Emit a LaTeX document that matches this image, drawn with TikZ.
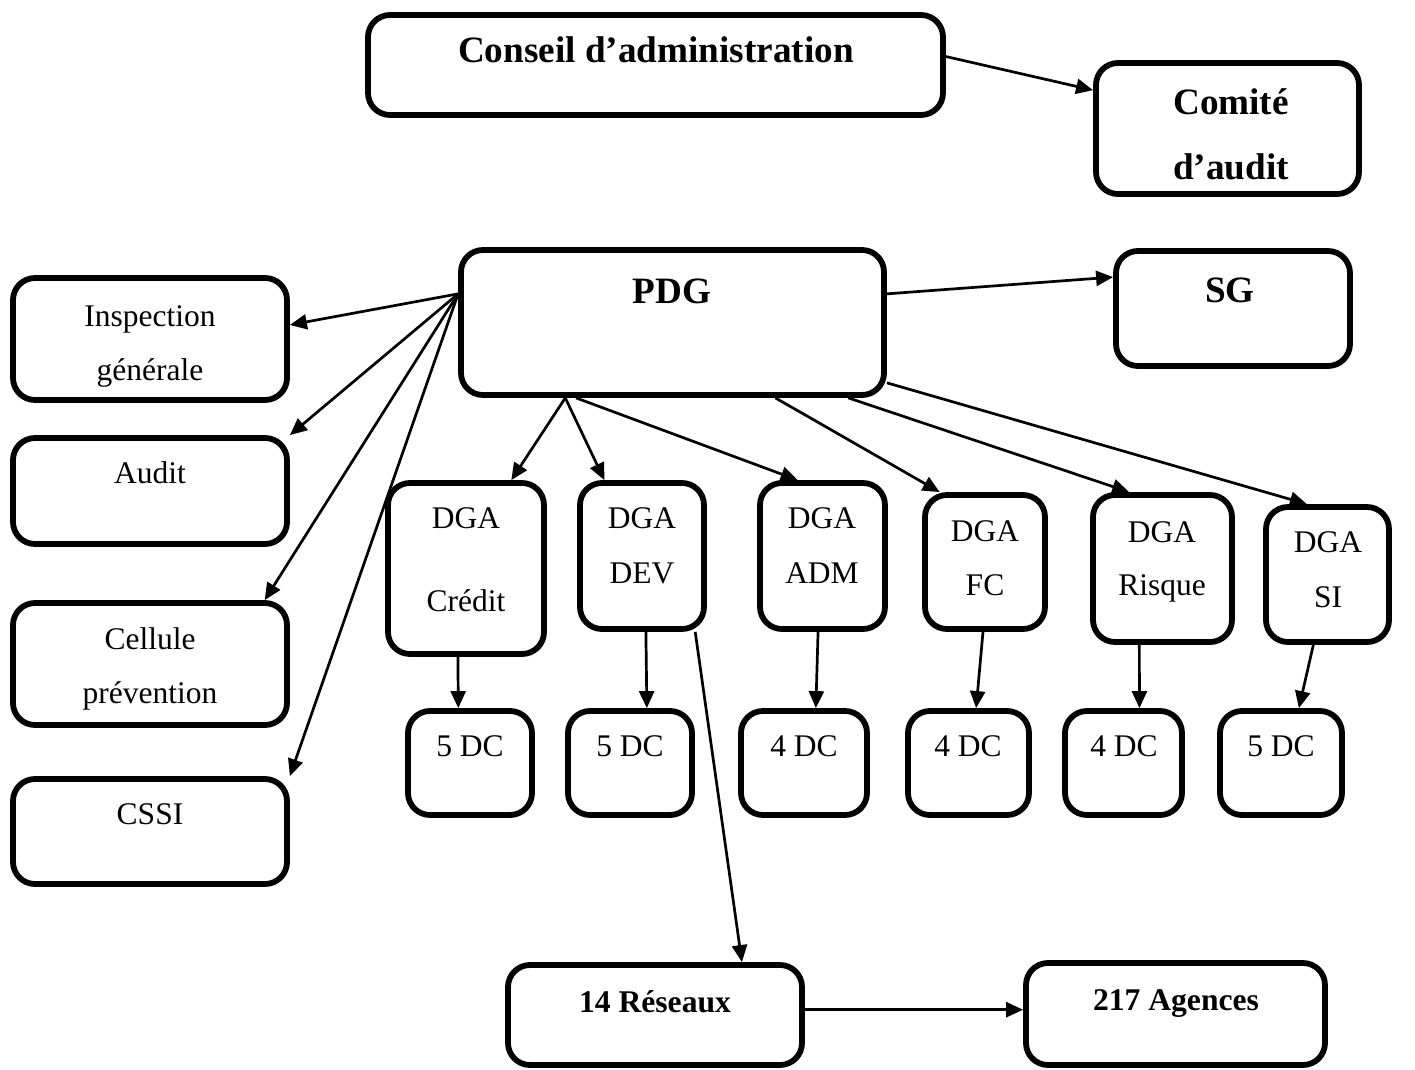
\documentclass[tikz,border=0pt]{standalone}
\usepackage{fontspec}
\setmainfont{Liberation Serif}
\usetikzlibrary{arrows.meta,calc,fit}
\begin{document}
\begin{tikzpicture}[x=0.5pt,y=-0.5pt,
  box/.style={draw,line width=2.9pt,rounded corners=11pt,inner sep=0pt,fill=white},
  reg/.style={anchor=base,inner sep=0pt,font=\fontsize{15.75}{18}\selectfont},
  bld/.style={anchor=base,inner sep=0pt,font=\fontsize{18.6}{22}\selectfont\bfseries},
  bldsm/.style={anchor=base,inner sep=0pt,font=\fontsize{15.8}{18}\selectfont\bfseries},
  arr/.style={line width=1.35pt,-{Triangle[length=8.5pt,width=7.5pt]}}]
\useasboundingbox (0,0) rectangle (1415,1070);

% boxes
\node[box,fit={(368,15) (943,115)}] (conseil) {};
\node[box,fit={(1096,63) (1359,194)}] (comite) {};
\node[box,fit={(461,250) (884,395)}] (pdg) {};
\node[box,fit={(1116,251) (1350,366)}] (sg) {};
\node[box,fit={(13,278) (287,400)}] (insp) {};
\node[box,fit={(13,438) (287,544)}] (audit) {};
\node[box,fit={(13,603) (287,725)}] (cell) {};
\node[box,fit={(13,779) (287,884)}] (cssi) {};
\node[box,fit={(388,483) (544,654)}] (credit) {};
\node[box,fit={(580,483) (704,629)}] (dev) {};
\node[box,fit={(760,483) (885,629)}] (adm) {};
\node[box,fit={(925,495) (1045,629)}] (fc) {};
\node[box,fit={(1093,495) (1232,642)}] (risque) {};
\node[box,fit={(1266,507) (1389,642)}] (si) {};
\node[box,fit={(408,711) (532,815)}] (dca) {};
\node[box,fit={(568,711) (692,815)}] (dcb) {};
\node[box,fit={(741,711) (867,815)}] (dcc) {};
\node[box,fit={(908,711) (1029,815)}] (dcd) {};
\node[box,fit={(1065,711) (1182,815)}] (dce) {};
\node[box,fit={(1220,711) (1342,815)}] (dcf) {};
\node[box,fit={(508,965) (802,1065)}] (res) {};
\node[box,fit={(1026,963) (1325,1065)}] (ag) {};

% texts
\node[bld] (tconseil) at (656,63) {Conseil d’administration};
\node[bld] (tcomA) at (1231,115) {Comité};
\node[bld] (tcomB) at (1231,180) {d’audit};
\node[bld] (tpdg) at (672,303) {PDG};
\node[bld] (tsg) at (1230,302) {SG};
\node[reg] (tinspA) at (150,326) {Inspection};
\node[reg] (tinspB) at (150,380) {générale};
\node[reg] (taudit) at (150,483) {Audit};
\node[reg] (tcellA) at (150,649) {Cellule};
\node[reg] (tcellB) at (150,703) {prévention};
\node[reg] (tcssi) at (150,824) {CSSI};
\node[reg] (tcrA) at (466,528) {DGA};
\node[reg] (tcrB) at (466,611) {Crédit};
\node[reg] (tdevA) at (642,528) {DGA};
\node[reg] (tdevB) at (642,583) {DEV};
\node[reg] (tadmA) at (822,528) {DGA};
\node[reg] (tadmB) at (822,583) {ADM};
\node[reg] (tfcA) at (985,541) {DGA};
\node[reg] (tfcB) at (985,595) {FC};
\node[reg] (triA) at (1162,542) {DGA};
\node[reg] (triB) at (1162,595) {Risque};
\node[reg] (tsiA) at (1328,552) {DGA};
\node[reg] (tsiB) at (1328,607) {SI};
\node[reg] (tdca) at (470,756) {5 DC};
\node[reg] (tdcb) at (630,756) {5 DC};
\node[reg] (tdcc) at (804,756) {4 DC};
\node[reg] (tdcd) at (968,756) {4 DC};
\node[reg] (tdce) at (1124,756) {4 DC};
\node[reg] (tdcf) at (1281,756) {5 DC};
\node[bldsm] (tres) at (655,1012) {14 Réseaux};
\node[bldsm] (tag) at (1176,1010) {217 Agences};

% connector anchor points
\coordinate (pL) at ($(pdg.north west)!0.31!(pdg.south west)$);
\coordinate (pB1) at ($(pdg.south west)!0.25!(pdg.south east)$);
\coordinate (pB2) at ($(pdg.south west)!0.275!(pdg.south east)$);
\coordinate (pB3) at ($(pdg.south west)!0.74!(pdg.south east)$);
\coordinate (pB4) at ($(pdg.south west)!0.91!(pdg.south east)$);
\coordinate (pR1) at ($(pdg.north east)!0.9!(pdg.south east)$);
\coordinate (pR2) at ($(pdg.north east)!0.31!(pdg.south east)$);

% Conseil -> Comite
\draw[arr] ($(conseil.north east)!0.42!(conseil.south east)$) -- ($(comite.north west)!0.22!(comite.south west)$);
% PDG -> SG
\draw[arr] (pR2) -- ($(sg.north west)!0.24!(sg.south west)$);
% PDG -> left boxes
\draw[arr] (pL) -- ($(insp.north east)!0.39!(insp.south east)$);
\draw[arr] (pL) -- (audit.north east);
\draw[arr] (pL) -- ($(cell.north west)!0.91!(cell.north east)$);
\draw[arr] (pL) -- (cssi.north east);
% PDG -> DGA
\draw[arr] (pB1) -- ($(credit.north west)!0.78!(credit.north east)$);
\draw[arr] (pB1) -- ($(dev.north west)!0.21!(dev.north east)$);
\draw[arr] (pB2) -- ($(adm.north west)!0.31!(adm.north east)$);
\draw[arr] (pB3) -- ($(fc.north west)!0.14!(fc.north east)$);
\draw[arr] (pB4) -- ($(risque.north west)!0.27!(risque.north east)$);
\draw[arr] (pR1) -- ($(si.north west)!0.34!(si.north east)$);
% DGA -> DC
\draw[arr] ($(credit.south west)!0.45!(credit.south east)$) -- ($(dca.north west)!0.41!(dca.north east)$);
\draw[arr] ($(dev.south west)!0.53!(dev.south east)$) -- ($(dcb.north west)!0.63!(dcb.north east)$);
\draw[arr] ($(adm.south west)!0.466!(adm.south east)$) -- ($(dcc.north west)!0.59!(dcc.north east)$);
\draw[arr] ($(fc.south west)!0.484!(fc.south east)$) -- ($(dcd.north west)!0.56!(dcd.north east)$);
\draw[arr] ($(risque.south west)!0.34!(risque.south east)$) -- ($(dce.north west)!0.63!(dce.north east)$);
\draw[arr] ($(si.south west)!0.39!(si.south east)$) -- ($(dcf.north west)!0.64!(dcf.north east)$);
% DEV -> Reseaux -> Agences
\draw[arr] ($(dev.south west)!0.91!(dev.south east)$) -- ($(res.north west)!0.79!(res.north east)$);
\coordinate (rA) at ($(res.north east)!0.45!(res.south east)$);
\draw[arr] (rA) -- (rA -| ag.west);
\end{tikzpicture}
\end{document}
